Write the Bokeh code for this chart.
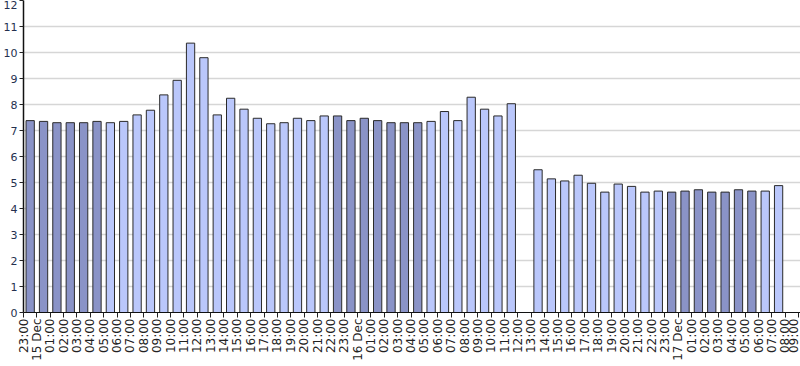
import math
import pandas as pd
from bokeh.plotting import figure
from bokeh.models import FixedTicker, ColumnDataSource, Range1d
from bokeh.embed import file_html
from bokeh.resources import INLINE

# ---- data ----
start_time = "2023-12-14 23:00"
values = [7.38, 7.35, 7.30, 7.30, 7.30, 7.35, 7.30, 7.35, 7.60, 7.78,
          8.37, 8.93, 10.36, 9.80, 7.60, 8.24, 7.82, 7.47, 7.26, 7.30,
          7.47, 7.38, 7.56, 7.56, 7.38, 7.47, 7.38, 7.30, 7.30, 7.30,
          7.35, 7.73, 7.38, 8.28, 7.82, 7.56, 8.03, None, 5.49, 5.14,
          5.06, 5.28, 4.97, 4.63, 4.94, 4.85, 4.63, 4.67, 4.63, 4.67,
          4.72, 4.63, 4.63, 4.72, 4.67, 4.67, 4.88]
tariff = (["off-peak"] * 6 + ["peak"] * 17 + ["off-peak"] * 7 +
          ["peak"] * 18 + ["off-peak"] * 7 + ["peak"] * 2)
y_ticks = list(range(0, 13))

tariff_colors = {"off-peak": "#8a93c7", "peak": "#bac7fb"}

times = pd.date_range(start_time, periods=len(values) + 2, freq="h")
tick_labels = [f"{t.day} Dec" if t.hour == 0 else t.strftime("%H:%M") for t in times]

xs, tops, cols = [], [], []
for i, (v, t) in enumerate(zip(values, tariff)):
    if v is None:
        continue
    xs.append(i + 0.5)
    tops.append(v)
    cols.append(tariff_colors[t])
src = ColumnDataSource(dict(x=xs, top=tops, color=cols))

p = figure(width=800, height=366, x_range=Range1d(0, 58.14), y_range=Range1d(0, 12),
           output_backend="svg", toolbar_location=None,
           min_border_left=23, min_border_right=0, min_border_top=0, min_border_bottom=54)
p.outline_line_color = None
p.background_fill_color = "white"

p.vbar(x="x", top="top", bottom=0, width=0.62, source=src, fill_color="color",
       line_color="#2a2a2a", line_width=1)

p.xgrid.visible = False
p.ygrid.grid_line_color = "#d6d6d6"
p.ygrid.grid_line_width = 1.5

p.yaxis.ticker = FixedTicker(ticks=y_ticks)
p.yaxis.minor_tick_line_color = None
p.yaxis.major_tick_out = 4
p.yaxis.major_tick_in = 0
p.yaxis.major_label_standoff = 2
p.yaxis.major_label_text_font = "DejaVu Sans"
p.yaxis.major_label_text_font_size = "11px"
p.yaxis.major_label_text_color = "#24304f"
p.yaxis.axis_line_color = "#111111"
p.yaxis.axis_line_width = 1.5
p.yaxis.major_tick_line_color = "#222222"

p.xaxis.ticker = FixedTicker(ticks=list(range(len(tick_labels))))
p.xaxis.major_label_overrides = {i: lab for i, lab in enumerate(tick_labels)}
p.xaxis.major_label_orientation = math.pi / 2
p.xaxis.minor_tick_line_color = None
p.xaxis.major_tick_out = 5
p.xaxis.major_tick_in = 0
p.xaxis.major_label_standoff = 1
p.xaxis.major_label_text_font = "DejaVu Sans"
p.xaxis.major_label_text_font_size = "12px"
p.xaxis.major_label_text_color = "#222222"
p.xaxis.axis_line_color = "#111111"
p.xaxis.major_tick_line_color = "#222222"

open("out.html", "w").write(file_html(p, INLINE))
